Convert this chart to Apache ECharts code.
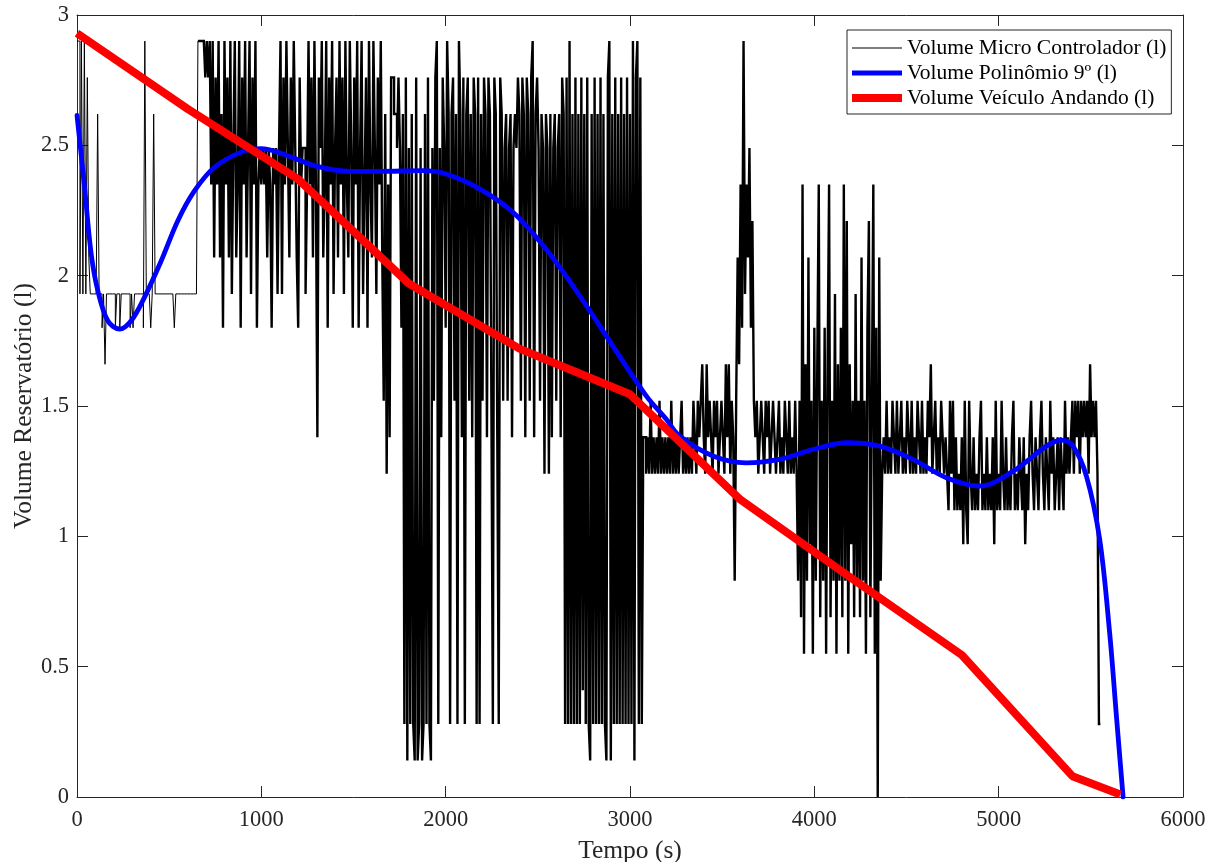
<!DOCTYPE html>
<html>
<head>
<meta charset="utf-8">
<script src="https://cdn.jsdelivr.net/npm/echarts@6/dist/echarts.min.js"></script>
<style>
html,body{margin:0;padding:0;background:#fff;}
#chart{width:1219px;height:862px;}
</style>
</head>
<body>
<div id="chart"></div>
<script>
// ---- data ----
const seriesNames = ['Volume Micro Controlador (l)', 'Volume Polinômio 9º (l)', 'Volume Veículo Andando (l)'];
const xTickValues = [0, 1000, 2000, 3000, 4000, 5000, 6000];
const yTickValues = [0, 0.5, 1, 1.5, 2, 2.5, 3];

// micro-controller reading, one sample every microStep seconds
const microStep = 8;
const microVolume = [
  2.9,2.9,1.93,2.9,1.93,2.9,1.93,2.76,
  2.07,1.93,1.93,1.93,1.93,1.93,2.62,1.93,1.93,1.8,
  1.93,1.66,1.93,1.93,1.93,1.93,1.93,1.93,1.8,1.93,
  1.93,1.8,1.93,1.93,1.93,1.93,1.93,1.93,1.8,1.93,
  1.8,1.93,1.93,1.93,1.93,1.93,1.93,1.8,2.9,1.93,
  1.93,1.93,1.8,1.93,2.62,1.93,1.93,1.93,1.93,1.93,
  1.93,1.93,1.93,1.93,1.93,1.93,1.93,1.93,1.8,1.93,
  1.93,1.93,1.93,1.93,1.93,1.93,1.93,1.93,1.93,1.93,
  1.93,1.93,1.93,1.93,
  2.9,2.9,2.9,2.9,2.9,
  2.76,2.9,2.76,2.9,2.35,2.9,2.07,2.76,2.35,2.9,
  2.07,2.62,1.8,2.9,2.35,2.76,2.07,2.9,1.93,2.49,
  2.9,2.07,2.35,2.9,1.8,2.76,2.35,2.9,2.07,2.49,
  2.9,1.93,2.76,2.35,2.9,1.8,2.35,
  2.49,2.35,2.49,2.35,2.49,2.07,2.49,2.35,1.8,2.49,2.35,2.49,1.93,2.49,
  2.9,1.93,2.76,2.35,2.9,2.49,2.07,2.76,2.35,2.9,2.49,2.07,1.8,2.76,2.35,2.49,
  2.49,1.93,2.35,
  2.9,2.35,2.76,2.07,2.9,2.35,1.38,2.76,2.49,2.9,
  2.07,2.35,2.9,1.8,2.76,2.35,2.9,1.93,2.49,2.76,
  2.07,2.9,2.35,2.76,1.93,2.9,2.35,2.07,2.9,2.49,
  1.8,2.76,2.35,2.9,1.8,2.49,2.9,1.93,2.35,2.76,
  1.8,2.9,2.35,2.07,2.9,2.49,1.93,2.76,2.35,2.9,
  2.07,
  1.52,2.62,1.24,2.35,1.38,2.76,2.76,2.62,2.62,
  2.49,2.76,2.49,1.8,2.62,0.28,2.76,0.14,2.49,0.28,
  2.62,0.28,0.14,2.76,0.14,0.28,2.49,0.14,0.28,2.62,
  0.28,2.76,0.28,0.14,2.49,1.52,2.76,2.9,0.28,2.49,
  1.38,2.76,2.49,1.8,2.9,2.62,0.28,
  2.62,2.76,1.52,2.62,0.28,2.9,2.62,1.38,2.76,0.28,
  2.62,2.76,1.52,2.62,1.38,2.76,2.62,0.28,2.76,0.28,
  2.62,1.52,2.76,2.62,1.38,2.76,2.62,1.52,0.28,2.76,
  2.62,1.38,0.28,2.76,2.62,1.52,
  2.49,2.62,1.52,2.49,2.62,1.38,2.49,2.62,2.49,
  2.76,2.62,1.52,2.76,2.62,1.38,2.76,2.62,1.52,2.76,
  2.9,1.38,2.62,2.76,2.49,1.52,2.62,2.49,1.24,2.62,
  2.49,1.24,2.62,1.38,2.49,2.62,1.52,2.49,2.62,1.38,
  2.76,2.62,
  0.28,2.76,0.28,2.9,0.28,2.62,0.28,2.76,0.28,2.62,
  0.28,2.76,0.41,2.62,0.28,2.76,0.28,0.14,2.62,0.28,
  2.76,0.28,2.62,0.28,2.76,0.28,2.62,0.28,0.14,2.76,
  2.9,0.14,2.62,0.28,2.76,0.28,2.62,0.28,2.76,0.28,
  2.62,0.28,2.76,0.28,2.62,0.28,2.9,0.14,2.76,2.9,
  0.28,2.76,0.28,
  1.38,1.38,1.24,
  1.38,1.24,1.52,1.24,1.38,1.24,1.38,1.24,1.52,1.24,
  1.38,1.24,1.38,1.24,1.38,1.24,1.52,1.24,1.38,1.24,
  1.38,1.24,1.38,1.52,1.24,1.38,1.24,1.38,1.24,1.38,
  1.24,
  1.52,1.38,1.24,1.52,1.38,1.52,1.66,1.38,1.24,1.66,
  1.38,1.52,1.38,1.24,1.52,1.38,1.52,1.24,1.38,1.52,
  1.38,1.24,1.66,1.38,1.66,1.24,1.52,1.38,0.83,
  1.52,2.07,1.66,2.35,1.8,2.9,1.93,2.35,2.07,2.49,1.8,2.21,
  1.52,1.38,1.52,1.24,1.38,1.52,1.38,1.24,1.52,1.38,
  1.52,1.24,1.38,1.52,1.38,1.24,1.38,1.52,1.24,1.38,
  1.24,1.52,1.38,1.24,1.52,1.24,1.38,1.24,1.52,
  1.24,0.83,1.52,0.69,2.35,0.55,1.66,0.83,2.07,0.97,
  1.52,0.55,1.8,0.83,1.66,2.35,0.69,1.52,0.83,1.8,
  0.55,1.66,2.35,0.69,1.52,0.83,1.93,0.55,1.66,0.83,
  1.8,0.69,2.35,0.83,2.21,0.55,1.66,0.97,1.52,0.69,
  1.93,0.83,1.52,0.69,2.07,0.83,1.52,0.55,1.8,2.21,
  0.69,1.52,2.35,0.55,1.8,0,2.07,0.83,1.24,
  1.38,1.24,1.52,1.24,1.38,1.24,1.52,1.38,1.24,1.52,
  1.24,1.38,1.52,1.24,1.38,1.24,1.52,1.38,1.24,1.52,
  1.24,1.38,1.24,1.52,1.38,1.24,1.52,1.24,1.38,1.24,
  1.52,1.38,1.66,1.24,1.38,1.52,1.24,1.38,1.24,1.52,
  1.38,1.24,1.38,
  1.24,1.1,1.52,1.24,1.52,1.1,1.38,1.1,1.24,1.1,
  1.38,0.97,1.52,1.1,0.97,1.52,1.24,1.1,1.38,1.1,
  1.24,1.1,1.38,1.52,1.1,1.24,1.1,1.38,1.1,1.24,
  1.1,1.38,0.97,1.52,1.1,1.24,1.1,1.52,1.24,1.1,
  1.38,1.1,1.24,1.1,1.38,1.52,1.1,1.24,1.1,1.38,
  1.24,1.1,1.38,0.97,1.24,1.1,1.38,1.52,1.24,1.1,
  1.38,1.24,1.1,1.38,1.52,1.24,1.1,1.38,1.24,1.1,
  1.52,1.24,1.38,1.1,1.24,1.38,1.1,1.38,1.24,1.1,
  1.52,1.24,1.38,1.24,
  1.38,1.52,1.24,1.52,1.38,1.52,1.24,1.52,1.38,1.52,1.38,1.52,1.24,1.66,1.38,1.52,1.38,1.52,1.24,
  0.28,0.28
];
// index where the densely toggling part of the reading begins
const microDenseStart = 82;

// 9th-degree polynomial fit
const polyTime = [0,41,77,113,167,231,294,366,457,547,638,746,891,999,1117,1298,1479,1642,1877,2003,2184,2365,2546,2727,2907,3088,3197,3269,3450,3631,3812,3993,4174,4355,4535,4716,4897,5078,5259,5340,5403,5476,5548,5602,5639,5675];
const polyVolume = [2.615,2.34,2.083,1.942,1.827,1.795,1.827,1.917,2.057,2.211,2.326,2.416,2.474,2.487,2.467,2.42,2.40,2.40,2.403,2.39,2.333,2.243,2.10,1.923,1.73,1.539,1.449,1.385,1.308,1.282,1.295,1.333,1.359,1.346,1.295,1.225,1.193,1.25,1.346,1.369,1.346,1.231,0.988,0.63,0.309,0.0];

// vehicle moving
const roadTime = [0,600,1200,1800,2400,3000,3600,4200,4800,5400,5660];
const roadVolume = [2.93,2.64,2.37,1.97,1.72,1.545,1.14,0.84,0.545,0.08,0.01];

// ---- chart ----
const FONT = 'Liberation Serif';
const AX = '#262626';
const chart = echarts.init(document.getElementById('chart'), null, {renderer: 'canvas'});

function baseX(pos, showLabel) {
  return {
    type: 'value', min: xTickValues[0], max: xTickValues[xTickValues.length - 1], interval: 1000,
    position: pos, gridIndex: 0,
    axisLine: {show: true, onZero: false, lineStyle: {color: AX, width: 1}},
    axisTick: {show: true, inside: true, length: 11, lineStyle: {color: AX, width: 1}},
    axisLabel: {show: showLabel, color: AX, fontFamily: FONT, fontSize: 22.5, margin: 12,
                formatter: v => String(v)},
    splitLine: {show: false}
  };
}
function baseY(pos, showLabel) {
  return {
    type: 'value', min: yTickValues[0], max: yTickValues[yTickValues.length - 1], interval: 0.5,
    position: pos, gridIndex: 0,
    axisLine: {show: true, onZero: false, lineStyle: {color: AX, width: 1}},
    axisTick: {show: true, inside: true, length: 11, lineStyle: {color: AX, width: 1}},
    axisLabel: {show: showLabel, color: AX, fontFamily: FONT, fontSize: 22.5, margin: 8,
                formatter: v => String(v)},
    splitLine: {show: false}
  };
}
const xBottom = Object.assign(baseX('bottom', true), {
  name: 'Tempo (s)', nameLocation: 'middle', nameGap: 41,
  nameTextStyle: {color: AX, fontFamily: FONT, fontSize: 25.5}
});
const yLeft = Object.assign(baseY('left', true), {
  name: 'Volume Reservatório (l)', nameLocation: 'middle', nameGap: 40, nameMoveOverlap: false,
  nameTextStyle: {color: AX, fontFamily: FONT, fontSize: 25.5}
});

const microPoints = microVolume.map((v, i) => [i * microStep, v]);

const option = {
  animation: false,
  backgroundColor: '#ffffff',
  grid: {left: 77, right: 36, top: 15, bottom: 65, containLabel: false, outerBoundsMode: 'none'},
  xAxis: [xBottom, baseX('top', false)],
  yAxis: [yLeft, baseY('right', false)],
  legend: {
    orient: 'vertical', left: 847, top: 30,
    padding: [7, 5, 5, 5], itemGap: 3, itemWidth: 50, itemHeight: 14,
    backgroundColor: '#ffffff', borderColor: AX, borderWidth: 1, borderRadius: 0,
    textStyle: {fontFamily: FONT, fontSize: 21.5, color: '#000'},
    data: [
      {name: seriesNames[0], icon: 'path://M0,0 M50,14 M0,6.5 L50,6.5 L50,7.5 L0,7.5 Z'},
      {name: seriesNames[1], icon: 'path://M0,0 M50,14 M0,4.5 L50,4.5 L50,9.5 L0,9.5 Z'},
      {name: seriesNames[2], icon: 'path://M0,0 M50,14 M0,3 L50,3 L50,11 L0,11 Z'}
    ]
  },
  series: [
    {
      name: seriesNames[0], type: 'line', xAxisIndex: 0, yAxisIndex: 0,
      data: microPoints.slice(0, microDenseStart + 1),
      step: 'end', symbol: 'none', showSymbol: false, sampling: null,
      lineStyle: {color: '#000000', width: 1}, itemStyle: {color: '#000000'},
      silent: true, z: 2
    },
    {
      name: seriesNames[0], type: 'line', xAxisIndex: 0, yAxisIndex: 0,
      data: microPoints.slice(microDenseStart),
      step: 'end', symbol: 'none', showSymbol: false, sampling: null,
      lineStyle: {color: '#000000', width: 2.4, join: 'miter', cap: 'butt'}, itemStyle: {color: '#000000'},
      silent: true, z: 2
    },
    {
      name: seriesNames[1], type: 'line', xAxisIndex: 0, yAxisIndex: 0,
      data: polyTime.map((t, i) => [t, polyVolume[i]]),
      smooth: 0.35, symbol: 'none', showSymbol: false,
      lineStyle: {color: '#0000ff', width: 4.8, cap: 'round', join: 'round'}, itemStyle: {color: '#0000ff'},
      silent: true, z: 3
    },
    {
      name: seriesNames[2], type: 'line', xAxisIndex: 0, yAxisIndex: 0,
      data: roadTime.map((t, i) => [t, roadVolume[i]]),
      symbol: 'none', showSymbol: false,
      lineStyle: {color: '#ff0000', width: 8, cap: 'butt', join: 'round'}, itemStyle: {color: '#ff0000'},
      silent: true, z: 4
    }
  ]
};
chart.setOption(option);
</script>
</body>
</html>
